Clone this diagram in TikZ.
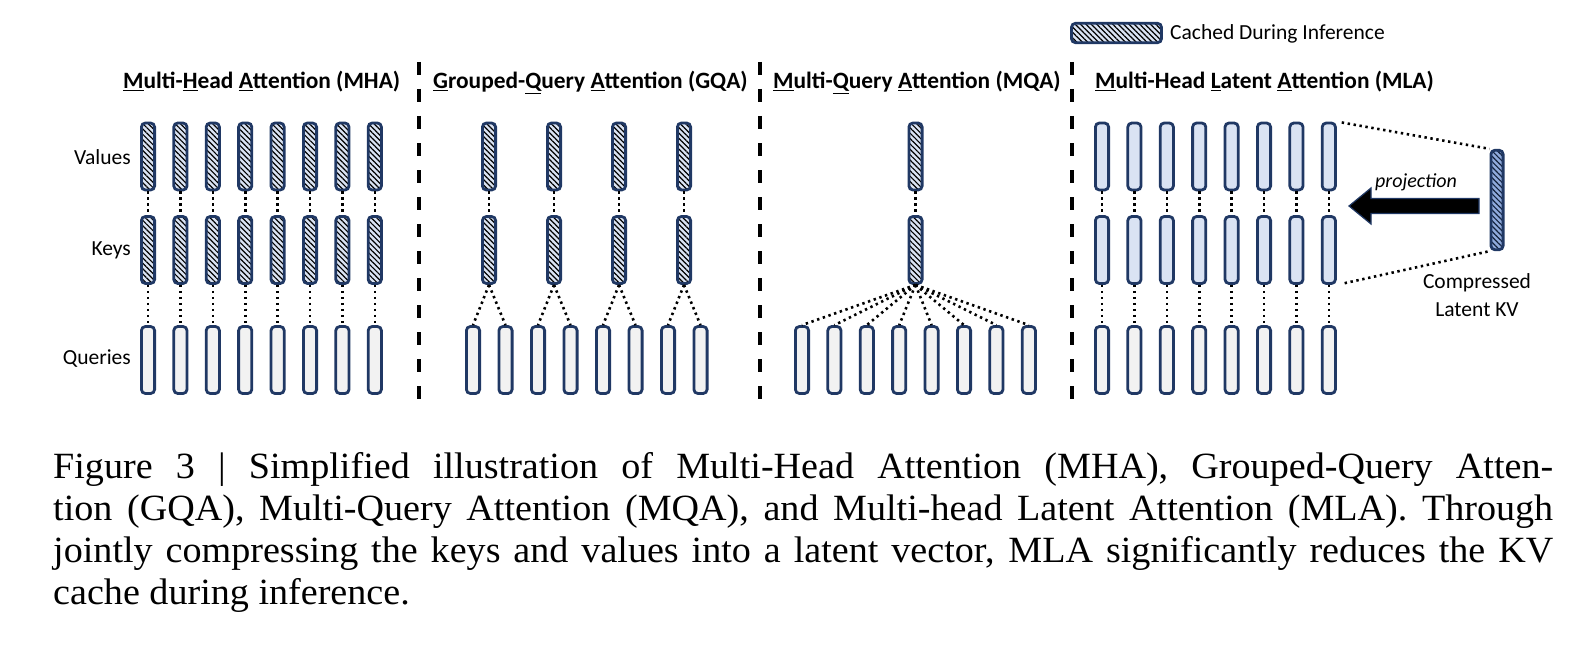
\documentclass[tikz,border=0pt]{standalone}
\usepackage{fontspec}
\setmainfont{Liberation Serif}[FakeStretch=1.03]
\newfontfamily\calibri{Carlito}
\usetikzlibrary{patterns.meta}
\definecolor{navy}{RGB}{32,56,100}
\definecolor{kvblue}{RGB}{218,227,243}
\definecolor{qgrey}{RGB}{242,242,242}
\definecolor{latblue}{RGB}{143,170,220}
\newcommand\capline[1]{\makebox[1500pt][s]{#1}}
\tikzset{
  headbox/.style={draw=navy,line width=2.8pt,rounded corners=4pt,minimum width=13.2pt,minimum height=67pt,inner sep=0pt},
  query/.style={headbox,fill=qgrey},
  kvbox/.style={headbox,fill=kvblue},
  cached/.style={headbox,preaction={fill=kvblue},preaction={pattern={Lines[angle=-45,distance=3.8pt,line width=1.2pt]}}},
  latentbox/.style={headbox,minimum width=12.2pt,minimum height=99.5pt,preaction={fill=latblue},preaction={pattern={Lines[angle=-45,distance=3.8pt,line width=1.2pt]},pattern color=navy!60!black}},
  dotlink/.style={line width=2.6pt,dash pattern=on 2.4pt off 3.6pt},
  divider/.style={line width=4pt,dash pattern=on 13pt off 14pt},
  heading/.style={font=\calibri\bfseries\fontsize{23.4}{28}\selectfont,anchor=base west,inner sep=0pt},
  rowname/.style={font=\calibri\fontsize{21.5}{26}\selectfont,anchor=east,inner sep=0pt},
}
\begin{document}
\begin{tikzpicture}[x=1pt,y=-1pt]
  \path[use as bounding box] (0,0) rectangle (1594,658);
  % legend
  \node[cached,minimum width=90pt,minimum height=19.4pt] (legbox) at (1116.5,33) {};
  \node[rowname,anchor=west] (legtext) at (1170,34) {Cached During Inference};
  % titles
  \node[heading] (tmha) at (123,89) {\underline{M}ulti-\underline{H}ead \underline{A}ttention (MHA)};
  \node[heading] (tgqa) at (433,89) {\underline{G}rouped-\underline{Q}uery \underline{A}ttention (GQA)};
  \node[heading] (tmqa) at (773,89) {\underline{M}ulti-\underline{Q}uery \underline{A}ttention (MQA)};
  \node[heading] (tmla) at (1095,89) {\underline{M}ulti-Head \underline{L}atent \underline{A}ttention (MLA)};
  % dividers
  \foreach \x in {419,760,1072}
    \draw[divider] (\x,62) -- (\x,412);
  % row names
  \node[rowname] (lv) at (131,157) {Values};
  \node[rowname] (lk) at (131,250) {Keys};
  \node[rowname] (lq) at (131,359) {Queries};
  % MHA
  \foreach \i in {1,...,8} {
    \node[cached] (mhav\i) at ({148+32.4*(\i-1)},156.5) {};
    \node[cached] (mhak\i) at ({148+32.4*(\i-1)},250) {};
    \node[query]  (mhaq\i) at ({148+32.4*(\i-1)},360) {};
    \draw[dotlink] (mhav\i) -- (mhak\i);
    \draw[dotlink] (mhak\i) -- (mhaq\i);
  }
  % GQA
  \foreach \j in {1,...,4} {
    \node[cached] (gqav\j) at ({489+65*(\j-1)},156.5) {};
    \node[cached] (gqak\j) at ({489+65*(\j-1)},250) {};
    \draw[dotlink] (gqav\j) -- (gqak\j);
  }
  \foreach \i in {1,...,8} {
    \pgfmathtruncatemacro\g{(\i+1)/2}
    \node[query] (gqaq\i) at ({473+32.5*(\i-1)},360) {};
    \draw[dotlink] (gqak\g.south) -- (gqaq\i.north);
  }
  % MQA
  \node[cached] (mqav) at (915.5,156.5) {};
  \node[cached] (mqak) at (915.5,250) {};
  \draw[dotlink] (mqav) -- (mqak);
  \foreach \i in {1,...,8} {
    \node[query] (mqaq\i) at ({802+32.4*(\i-1)},360) {};
    \draw[dotlink] (mqak.south) -- (mqaq\i.north);
  }
  % MLA
  \foreach \i in {1,...,8} {
    \node[kvbox] (mlav\i) at ({1102+32.4*(\i-1)},156.5) {};
    \node[kvbox] (mlak\i) at ({1102+32.4*(\i-1)},250) {};
    \node[query] (mlaq\i) at ({1102+32.4*(\i-1)},360) {};
    \draw[dotlink] (mlav\i) -- (mlak\i);
    \draw[dotlink] (mlak\i) -- (mlaq\i);
  }
  \node[latentbox] (latent) at (1497,200) {};
  \draw[dotlink,shorten <=5pt] (mlav8.north east) -- (latent.north west);
  \draw[dotlink,shorten <=8pt] (mlak8.south east) -- (latent.south west);
  \draw[fill=black,draw=navy,line width=1.2pt] (1479,198.5) -- (1371,198.5) -- (1371,188)
    -- (1349,206) -- (1371,224) -- (1371,213.5) -- (1479,213.5) -- cycle;
  \node[font=\calibri\itshape\fontsize{20}{24}\selectfont,inner sep=0pt] (proj) at (1416,182) {projection};
  \node[rowname,anchor=center,align=center,font=\calibri\fontsize{21.5}{27.5}\selectfont] (ltext) at (1477,295) {Compressed\\Latent KV};
  % caption
  \node[anchor=north west,inner sep=0pt,align=left,
        font=\fontsize{37}{42}\selectfont] (caption) at (53,452)
    {\capline{Figure 3 | Simplified illustration of Multi-Head Attention (MHA), Grouped-Query Atten-}\\
     \capline{tion (GQA), Multi-Query Attention (MQA), and Multi-head Latent Attention (MLA). Through}\\
     \capline{jointly compressing the keys and values into a latent vector, MLA significantly reduces the KV}\\
     cache during inference.};
\end{tikzpicture}
\end{document}
